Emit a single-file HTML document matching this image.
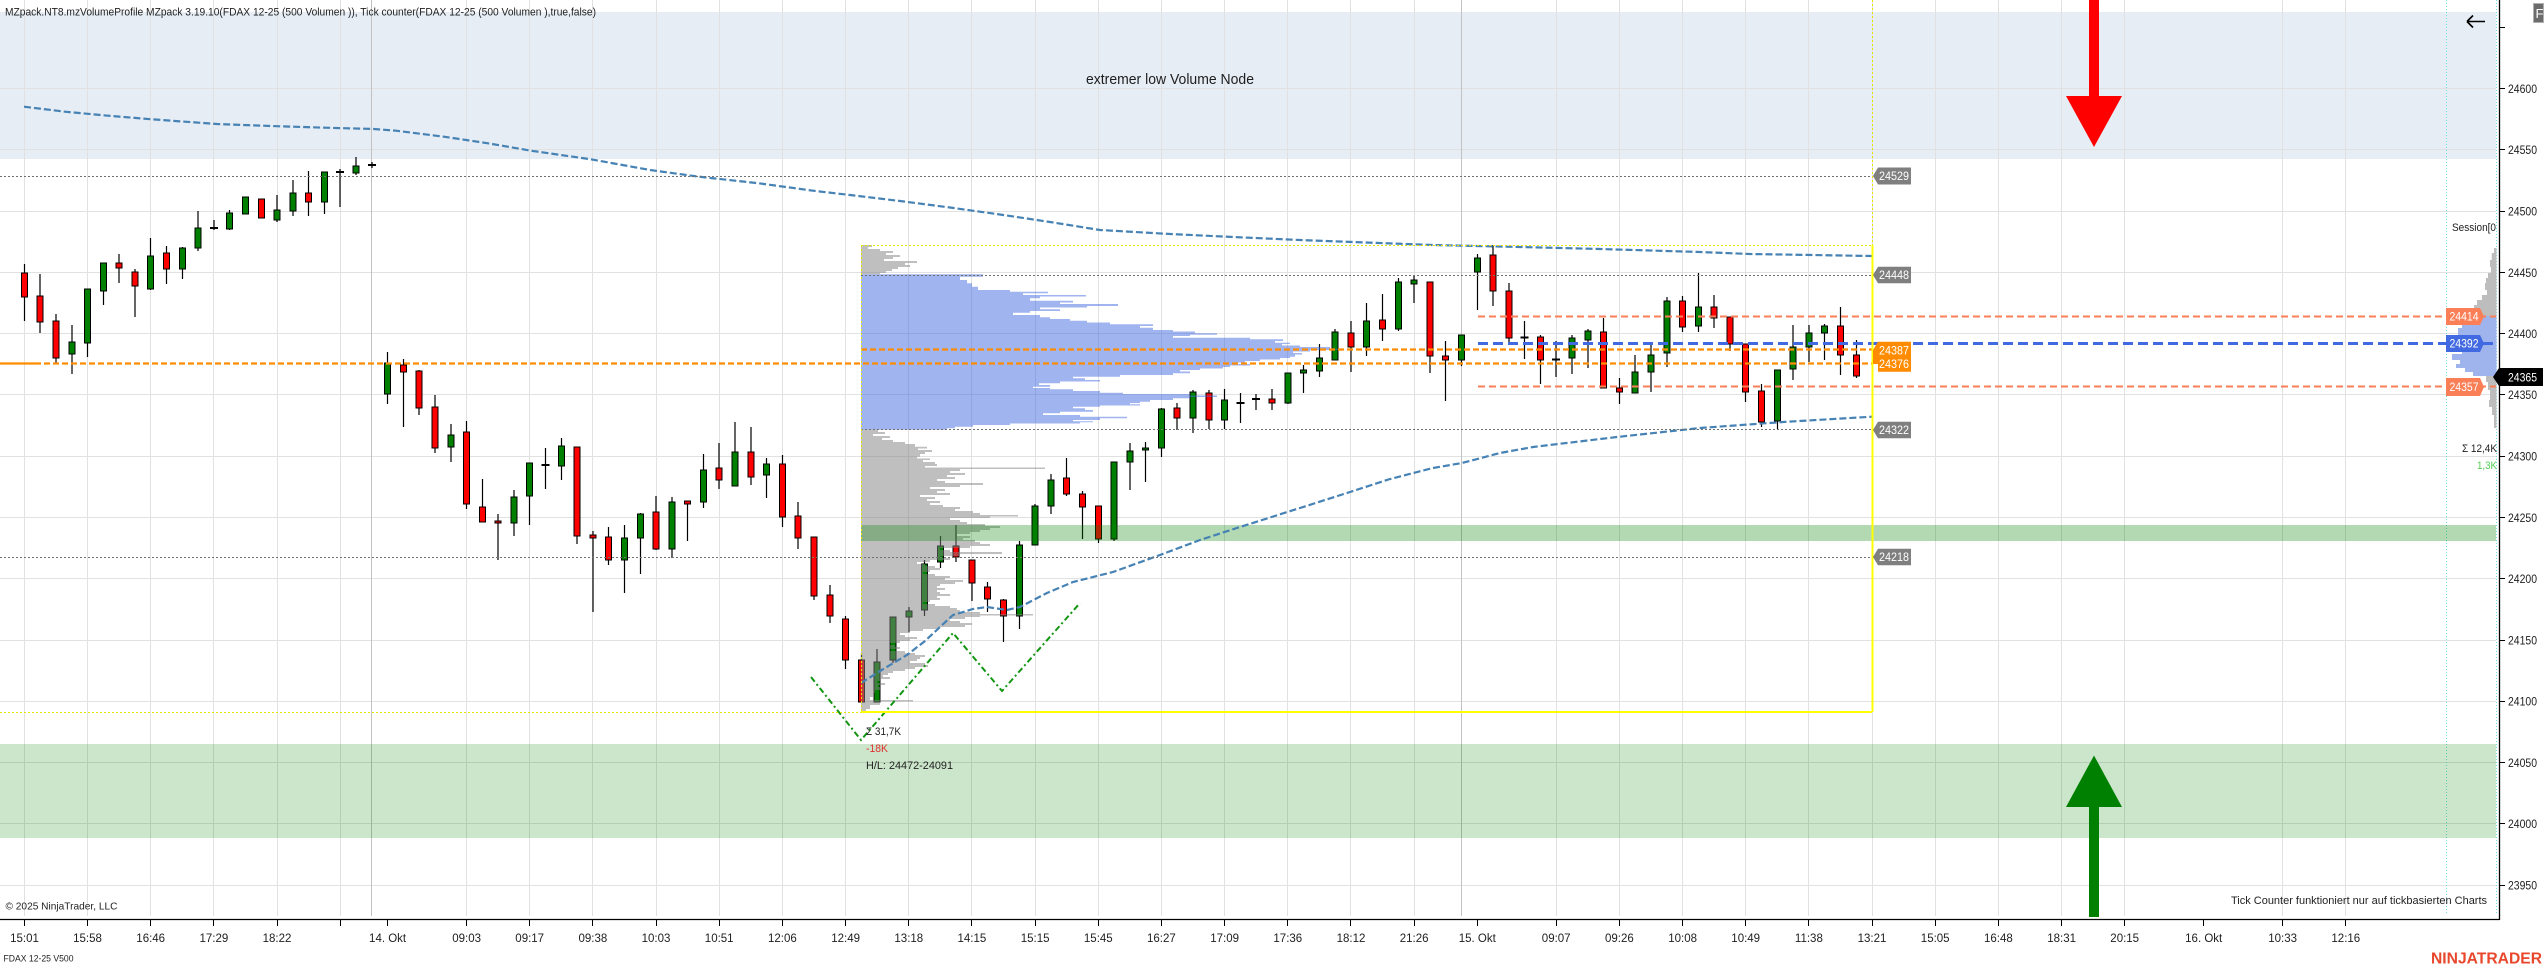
<!DOCTYPE html>
<html><head><meta charset="utf-8"><style>
html,body{margin:0;padding:0;background:#fff;overflow:hidden}
svg{display:block}
text{font-family:"Liberation Sans",sans-serif}
</style></head><body>
<svg width="2544" height="968" viewBox="0 0 2544 968" xmlns="http://www.w3.org/2000/svg">
<rect width="2544" height="968" fill="#fff"/>
<!-- top band -->
<rect x="0" y="12" width="2496" height="147" fill="#e6edf5"/>
<!-- grid -->
<path d="M0 88.5H2496M0 149.5H2496M0 211.5H2496M0 272.5H2496M0 333.5H2496M0 394.5H2496M0 456.5H2496M0 517.5H2496M0 578.5H2496M0 640.5H2496M0 701.5H2496M0 762.5H2496M0 823.5H2496M0 885.5H2496" stroke="#e1e1e1" stroke-width="1" fill="none"/>
<path d="M24.5 0V916M87.5 0V916M150.5 0V916M213.5 0V916M277.5 0V916M340.5 0V916M466.5 0V916M529.5 0V916M592.5 0V916M656.5 0V916M719.5 0V916M782.5 0V916M845.5 0V916M908.5 0V916M971.5 0V916M1035.5 0V916M1098.5 0V916M1161.5 0V916M1224.5 0V916M1287.5 0V916M1350.5 0V916M1414.5 0V916M1556.5 0V916M1619.5 0V916M1682.5 0V916M1745.5 0V916M1808.5 0V916M1872.5 0V916M1935.5 0V916M1998.5 0V916M2061.5 0V916M2124.5 0V916M2282.5 0V916M2345.5 0V916" stroke="#e1e1e1" stroke-width="1" fill="none"/>
<path d="M371.5 0V916M1461.5 0V916" stroke="#c2c2c2" stroke-width="1" fill="none"/>
<!-- cyan dotted -->
<path d="M2446.5 0V915M2496.5 0V915" stroke="#6fe0e0" stroke-width="1" stroke-dasharray="1,2" fill="none"/>

<text x="1086" y="84" font-size="15" fill="#1e1e1e" textLength="168" lengthAdjust="spacingAndGlyphs">extremer low Volume Node</text>

<!-- wicks -->
<path stroke="#000" stroke-width="1.2" fill="none" d="M24.5 264V321M40 274V333M56 314V364M72 325V374M87.5 289V357M103.5 263V305M119 254V283M135 269V317M150.5 238V290M166.5 246V284M182.5 247V279M198 211V251M214 220V230M229.5 210V230M277 195V222M293 180V216M308.5 171V216M324.5 172V214M340 169V207M356 157V175M372 162V168M387.5 352V404M403.5 359V427M419 370V415M435 395V453M451 424V462M466.5 421V509M482.5 479V522M498 514V560M514 490V536M529.5 463V525M545.5 448V489M561.5 438V480M577 447V544M593 531V612M608.5 527V565M624.5 525V593M640.5 513V574M656 496V550M672 497V558M687.5 501V541M703.5 454V508M719 443V489M735 422V486M751 427V485M766.5 458V498M782.5 455V527M798 502V549M814 537V600M830 585V623M845.5 616V669M861.5 653V702M877 649V702M893 617V663M909 607V632M924.5 560V616M940.5 536V568M956 525V562M972 560V601M987.5 582V612M1003.5 599V642M1019.5 541V629M1035 504V545M1051 474V514M1066.5 458V496M1082.5 491V539M1098.5 506V543M1114 462V541M1130 443V490M1145.5 442V482M1161.5 408V457M1177 403V430M1193 390V433M1209 390V429M1224.5 389V429M1240.5 393V423M1256 394V410M1272 389V410M1288 373V404M1303.5 365V393M1319.5 344V377M1335 329V360M1351 321V372M1366.5 303V356M1382.5 294V341M1398.5 278V331M1414 275V303M1430 282V373M1445.5 341V401M1461.5 335V366M1477.5 254V310M1493 245V306M1509 283V342M1524.5 321V359M1540.5 335V384M1556 341V377M1572 335V374M1588 329V368M1603.5 318V388M1619.5 378V404M1635 355V393M1651 343V392M1667 297V367M1682.5 296V332M1698.5 273V332M1714 295V328M1730 317V351M1745.5 344V402M1761.5 384V427M1777.5 370V429M1793 325V380M1809 325V362M1824.5 324V360M1840.5 307V375M1856.5 340V378"/>
<!-- dojis -->
<path stroke="#000" stroke-width="2" fill="none" d="M210 228H218M336 172H344M368 165H376M541.5 465H549.5M1236.5 403H1244.5M1252 399H1260M1520.5 337.5H1528.5M1552 359.5H1560"/>
<!-- red bodies -->
<g fill="#ff0000" stroke="#000" stroke-width="1">
<rect x="21.5" y="273" width="6" height="24"/><rect x="37" y="296" width="6" height="26"/><rect x="53" y="321" width="6" height="37"/><rect x="116" y="263" width="6" height="5"/><rect x="132" y="272" width="6" height="14"/><rect x="163.5" y="253" width="6" height="16"/><rect x="258.5" y="199" width="6" height="19"/><rect x="305.5" y="193" width="6" height="9"/><rect x="400.5" y="365" width="6" height="7"/><rect x="416" y="371" width="6" height="37"/><rect x="432" y="407" width="6" height="41"/><rect x="463.5" y="432" width="6" height="72"/><rect x="479.5" y="507" width="6" height="15"/><rect x="495" y="521" width="6" height="2"/><rect x="574" y="447" width="6" height="89"/><rect x="590" y="535" width="6" height="3"/><rect x="605.5" y="537" width="6" height="23"/><rect x="653" y="512" width="6" height="37"/><rect x="684.5" y="501" width="6" height="3"/><rect x="716" y="468" width="6" height="12"/><rect x="748" y="452" width="6" height="25"/><rect x="779.5" y="464" width="6" height="53"/><rect x="795" y="516" width="6" height="22"/><rect x="811" y="537" width="6" height="59"/><rect x="827" y="595" width="6" height="21"/><rect x="842.5" y="619" width="6" height="41"/><rect x="858.5" y="660" width="6" height="42"/><rect x="953" y="546" width="6" height="11"/><rect x="969" y="560" width="6" height="23"/><rect x="984.5" y="587" width="6" height="12"/><rect x="1000.5" y="600" width="6" height="16"/><rect x="1063.5" y="478" width="6" height="16"/><rect x="1079.5" y="494" width="6" height="13"/><rect x="1095.5" y="506" width="6" height="33"/><rect x="1174" y="408" width="6" height="10"/><rect x="1206" y="393" width="6" height="27"/><rect x="1269" y="399" width="6" height="4"/><rect x="1348" y="333" width="6" height="14"/><rect x="1379.5" y="320" width="6" height="9"/><rect x="1427" y="282" width="6" height="74"/><rect x="1442.5" y="356" width="6" height="4"/><rect x="1490" y="255" width="6" height="36"/><rect x="1506" y="291" width="6" height="47"/><rect x="1537.5" y="337" width="6" height="23"/><rect x="1600.5" y="332" width="6" height="56"/><rect x="1616.5" y="388" width="6" height="4"/><rect x="1679.5" y="301" width="6" height="26"/><rect x="1711" y="307" width="6" height="11"/><rect x="1727" y="317" width="6" height="27"/><rect x="1742.5" y="344" width="6" height="48"/><rect x="1758.5" y="391" width="6" height="31"/><rect x="1837.5" y="326" width="6" height="29"/><rect x="1853.5" y="355" width="6" height="21"/>
</g>
<!-- green bodies -->
<g fill="#008000" stroke="#000" stroke-width="1">
<rect x="69" y="342" width="6" height="12"/><rect x="84.5" y="289" width="6" height="54"/><rect x="100.5" y="263" width="6" height="28"/><rect x="147.5" y="256" width="6" height="33"/><rect x="179.5" y="248" width="6" height="21"/><rect x="195" y="228" width="6" height="20"/><rect x="226.5" y="213" width="6" height="16"/><rect x="242.5" y="197" width="6" height="17"/><rect x="274" y="210" width="6" height="10"/><rect x="290" y="193" width="6" height="18"/><rect x="321.5" y="172" width="6" height="30"/><rect x="353" y="166" width="6" height="7"/><rect x="384.5" y="363" width="6" height="31"/><rect x="448" y="435" width="6" height="12"/><rect x="511" y="497" width="6" height="26"/><rect x="526.5" y="463" width="6" height="33"/><rect x="558.5" y="446" width="6" height="20"/><rect x="621.5" y="538" width="6" height="22"/><rect x="637.5" y="514" width="6" height="24"/><rect x="669" y="502" width="6" height="47"/><rect x="700.5" y="470" width="6" height="32"/><rect x="732" y="452" width="6" height="34"/><rect x="763.5" y="464" width="6" height="11"/><rect x="874" y="662" width="6" height="40"/><rect x="890" y="617" width="6" height="43"/><rect x="906" y="611" width="6" height="6"/><rect x="921.5" y="564" width="6" height="46"/><rect x="937.5" y="546" width="6" height="16"/><rect x="1016.5" y="545" width="6" height="71"/><rect x="1032" y="506" width="6" height="39"/><rect x="1048" y="480" width="6" height="26"/><rect x="1111" y="462" width="6" height="77"/><rect x="1127" y="451" width="6" height="11"/><rect x="1142.5" y="448" width="6" height="2"/><rect x="1158.5" y="409" width="6" height="39"/><rect x="1190" y="392" width="6" height="26"/><rect x="1221.5" y="400" width="6" height="20"/><rect x="1285" y="373" width="6" height="30"/><rect x="1300.5" y="370" width="6" height="3"/><rect x="1316.5" y="358" width="6" height="13"/><rect x="1332" y="332" width="6" height="28"/><rect x="1363.5" y="321" width="6" height="26"/><rect x="1395.5" y="282" width="6" height="47"/><rect x="1411" y="280" width="6" height="4"/><rect x="1458.5" y="335" width="6" height="25"/><rect x="1474.5" y="258" width="6" height="14"/><rect x="1569" y="338" width="6" height="20"/><rect x="1585" y="331" width="6" height="9"/><rect x="1632" y="372" width="6" height="21"/><rect x="1648" y="355" width="6" height="17"/><rect x="1664" y="301" width="6" height="52"/><rect x="1695.5" y="307" width="6" height="19"/><rect x="1774.5" y="370" width="6" height="51"/><rect x="1790" y="347" width="6" height="22"/><rect x="1806" y="333" width="6" height="14"/><rect x="1821.5" y="326" width="6" height="7"/>
</g>

<!-- volume profile -->
<path fill="rgba(128,128,128,0.5)" d="M861 245H872V247H868V249H880V251H893V253H886V255H900V257H893V259H884V261H917V263H905V265H910V267H898V269H892V271H886V273H880V274.3H861Z"/>
<path fill="rgba(65,105,225,0.5)" d="M861 274.3H983V276.7H960V280H967V283.3H972V286.7H978V290H1010V291.7H1048V293.3H1023V295H1086V296.5H1040V298.3H1030V300.7H1073V302.5H1060V304H1118V306H1087V307.5H1040V309.3H1060V311H1030V312.7H1013V315H1040V317.3H1050V319H1070V320.7H1087V322.5H1110V324.3H1153V326H1140V327.7H1153V330H1173V331.5H1195V333.3H1217V334.7H1190V336H1173V337.7H1250V339.3H1283V341H1275V342.7H1290V344H1282V345.5H1300V347H1330V348.5H1340V350H1310V351.5H1293V353H1302V354.5H1295V356.7H1290V358H1280V359.5H1260V361H1245V362.5H1237V364H1250V365.5H1230V367H1223V368.5H1200V370H1180V371.5H1190V373.3H1173V375H1120V376.7H1073V378.3H1085V380H1100V381.5H1060V383.3H1039V385H1050V386.7H1033V388H1050V389.3H1073V391H1100V392.7H1123V394H1190V395.5H1217V397H1190V398.3H1173V400H1150V401.7H1140V403H1130V404.3H1140V405.5H1100V406.7H1073V408.3H1085V410H1093V411.7H1060V413.3H1043V415H1080V416.7H1127V418.3H1100V420H1073V421.2H1093V422.3H1080V423.5H1010V425H973V426.7H955V428.3H947V429.7H861Z"/>
<path fill="rgba(128,128,128,0.5)" d="M861 429.7H878V432H885V434H873V436H890V438H882V440H893V442H905V444H915V446.7H927V448.5H918V450H932V452H925V454H920V456.7H917V458.5H930V460H923V462H935V464H937V466H925V467.5H1045V469H960V471H950V473H965V475H947V477H955V479H937V481H945V483H983V485H960V487H930V489H945V491H937V493H950V495H920V497H935V499H927V501H940V503H930V505H943V507H960V509H955V511H973V513H980V515H1018V516.5H990V518H950V520H960V522H967V524H985V526H1000V528H990V530H980V532H970V534H957V536H970V538H963V540H975V542H980V544H990V546H970V548H940V550H950V552H1002V554H960V556H940V558H950V560H930V562H917V564H925V566H935V568H940V570H930V572H923V574H935V576H950V578H945V580H963V582H955V584H940V586H937V588H945V590H937V592H940V594H950V596H937V598H940V600H930V602H923V604H935V606H950V608H957V610H960V612H980V614H1033V615.5H980V617H965V619H950V621H960V623H972V625H965V627H940V629H923V631H910V633H900V635H905V637H917V639H910V641H900V643H890V645H895V647H900V649H890V651H905V653H915V655H925V657H920V659H917V661H910V663H925V665H928V667H915V669H905V671H893V673H888V675H883V677H890V679H880V681H877V683H885V685H878V687H880V690H875V693H873V697H870V700H913V701.5H880V705H870V709H866V712H861Z"/>

<!-- session profile right -->
<path fill="#bdbdbd" d="M2496.5 248H2494V253H2491.7V260H2490V267H2491V273H2488V278H2486V283H2485V290H2487V295H2482V300H2477V305H2474V310H2471V316H2496.5Z"/>
<path fill="#9fb3ec" d="M2496.5 316H2466V322H2462V328H2458V335H2456V343H2460V350H2462V354H2452V360H2460V364H2456V368H2465V372H2473V376H2496.5Z"/>
<path fill="#bdbdbd" d="M2496.5 376H2486V382H2488V390H2490V400H2489V407H2492V415H2494V428H2496.5Z"/>

<!-- green bands -->
<rect x="861" y="525" width="1635" height="16" fill="rgba(0,128,0,0.3)"/>
<rect x="0" y="744" width="2496" height="94" fill="rgba(0,128,0,0.2)"/>

<!-- moving averages -->
<polyline fill="none" stroke="#4682b4" stroke-width="2.2" stroke-dasharray="7,3" points="24,106.7 65,111.7 108,115.7 152,119.3 217,124 271,126 325,127.7 374,129 396,130.7 444,136.7 488,143.3 531,150.7 591,159.3 650,170 699,176.7 759,183.3 813,190.7 850,195 900,201 950,207.5 1000,214.5 1050,222 1100,230 1170,234 1233,237 1300,240 1433,245 1520,247 1600,249 1700,252 1750,254 1872,256"/>
<polyline fill="none" stroke="#4682b4" stroke-width="2.2" stroke-dasharray="7,3" points="861,683 885,668 907,655 925,641 940,627 953,615 973,609 987,607 1007,610 1020,607 1047,593 1073,582 1113,572 1160,555 1200,540 1240,527 1300,508 1350,492 1390,479 1433,468 1462,463 1500,453 1533,447 1617,437 1700,428 1783,422 1872,416.7"/>

<!-- horizontal levels -->
<path d="M0 176.5H1872M0 557.5H1872M861 275.5H1872M861 429.5H1872" stroke="#707070" stroke-width="1" stroke-dasharray="2,2" fill="none"/>
<path d="M0 363.5H35" stroke="#ff8c00" stroke-width="2.2" fill="none"/>
<path d="M35 363.5H1872M861 349.5H1872" stroke="#ff8c00" stroke-width="2.2" stroke-dasharray="6,3" fill="none"/>
<path d="M1478 316.5H2496M1478 386.5H2496" stroke="#fa7f57" stroke-width="2" stroke-dasharray="7,4" fill="none"/>
<path d="M1478 343.5H2493" stroke="#4169e1" stroke-width="3" stroke-dasharray="10,5" fill="none"/>

<!-- zigzag -->
<polyline fill="none" stroke="#129612" stroke-width="2" stroke-dasharray="6,3,2,3" points="811,677 861,740 953,633 1002,691 1080,603"/>

<!-- yellow lines -->
<path d="M861 712H1872M1872.5 245V712" stroke="#ffff00" stroke-width="2" fill="none"/>
<path d="M0 712.5H861M861 245.5H1872M861.5 245V712M1872.5 0V245" stroke="#e6e600" stroke-width="1" stroke-dasharray="2,2" fill="none"/>

<!-- arrows -->
<rect x="2089" y="0" width="10" height="97" fill="#ff0000"/>
<polygon points="2066,96 2122,96 2094,147" fill="#ff0000"/>
<rect x="2089" y="806" width="10" height="111" fill="#008000"/>
<polygon points="2066,807 2122,807 2094,755.5" fill="#008000"/>

<!-- labels at 1873 -->
<g fill="#7f7f7f">
<path d="M1873 176L1878 167.5H1911V184.5H1878Z"/>
<path d="M1873 275L1878 266.7H1911V283.3H1878Z"/>
<path d="M1873 430L1878 421.7H1911V438.3H1878Z"/>
<path d="M1873 557L1878 548.7H1911V565.3H1878Z"/>
</g>
<path d="M1873 350L1878 341.7H1911V371.7H1878V364H1873Z" fill="#ff8c00"/>
<g fill="#fff" font-size="11.5" text-anchor="middle">
<text x="1894" y="180" textLength="30" lengthAdjust="spacingAndGlyphs">24529</text>
<text x="1894" y="279" textLength="30" lengthAdjust="spacingAndGlyphs">24448</text>
<text x="1894" y="434" textLength="30" lengthAdjust="spacingAndGlyphs">24322</text>
<text x="1894" y="561" textLength="30" lengthAdjust="spacingAndGlyphs">24218</text>
<text x="1894" y="354.5" textLength="30" lengthAdjust="spacingAndGlyphs">24387</text>
<text x="1894" y="368" textLength="30" lengthAdjust="spacingAndGlyphs">24376</text>
</g>

<!-- right labels -->
<path d="M2446 308H2480L2484 316.5L2480 325H2446Z" fill="#fa7f57"/>
<path d="M2446 335H2480L2484 343.5L2480 352H2446Z" fill="#4169e1"/>
<path d="M2446 378H2480L2484 387L2480 396H2446Z" fill="#fa7f57"/>
<g fill="#fff" font-size="11.5" text-anchor="middle">
<text x="2464" y="320.5" textLength="29" lengthAdjust="spacingAndGlyphs">24414</text>
<text x="2464" y="347.5" textLength="29" lengthAdjust="spacingAndGlyphs">24392</text>
<text x="2464" y="391" textLength="29" lengthAdjust="spacingAndGlyphs">24357</text>
</g>

<text x="2452" y="231" font-size="11" fill="#1e1e1e" textLength="44" lengthAdjust="spacingAndGlyphs">Session[0</text>
<text x="2462" y="452" font-size="11" fill="#1e1e1e" textLength="35" lengthAdjust="spacingAndGlyphs">Σ 12,4K</text>
<text x="2477" y="469" font-size="11" fill="#55cc55" textLength="20" lengthAdjust="spacingAndGlyphs">1,3K</text>

<!-- axes -->
<rect x="2497" y="0" width="47" height="968" fill="#fff"/>
<path d="M0 919.5H2499.5M2499.5 0V920" stroke="#000" stroke-width="1.3" fill="none"/>
<path d="M2499 27.5H2505M2499 88.5H2505M2499 149.5H2505M2499 211.5H2505M2499 272.5H2505M2499 333.5H2505M2499 394.5H2505M2499 456.5H2505M2499 517.5H2505M2499 578.5H2505M2499 640.5H2505M2499 701.5H2505M2499 762.5H2505M2499 823.5H2505M2499 885.5H2505" stroke="#000" stroke-width="1" fill="none"/>
<path d="M2493 377L2499 368H2543V386H2499Z" fill="#000"/>
<text x="2508" y="381.5" font-size="11.5" fill="#fff" textLength="29" lengthAdjust="spacingAndGlyphs">24365</text>
<g font-size="11.5" fill="#1e1e1e">
<text x="2508" y="93" textLength="29" lengthAdjust="spacingAndGlyphs">24600</text>
<text x="2508" y="154" textLength="29" lengthAdjust="spacingAndGlyphs">24550</text>
<text x="2508" y="215.5" textLength="29" lengthAdjust="spacingAndGlyphs">24500</text>
<text x="2508" y="277" textLength="29" lengthAdjust="spacingAndGlyphs">24450</text>
<text x="2508" y="338" textLength="29" lengthAdjust="spacingAndGlyphs">24400</text>
<text x="2508" y="399" textLength="29" lengthAdjust="spacingAndGlyphs">24350</text>
<text x="2508" y="460.5" textLength="29" lengthAdjust="spacingAndGlyphs">24300</text>
<text x="2508" y="522" textLength="29" lengthAdjust="spacingAndGlyphs">24250</text>
<text x="2508" y="583" textLength="29" lengthAdjust="spacingAndGlyphs">24200</text>
<text x="2508" y="644.5" textLength="29" lengthAdjust="spacingAndGlyphs">24150</text>
<text x="2508" y="705.5" textLength="29" lengthAdjust="spacingAndGlyphs">24100</text>
<text x="2508" y="767" textLength="29" lengthAdjust="spacingAndGlyphs">24050</text>
<text x="2508" y="828" textLength="29" lengthAdjust="spacingAndGlyphs">24000</text>
<text x="2508" y="889.5" textLength="29" lengthAdjust="spacingAndGlyphs">23950</text>
</g>
<rect x="2533.5" y="3.5" width="10" height="19" fill="#6b6b6b" stroke="#b0b0b0" stroke-width="1"/>
<text x="2535.5" y="18" font-size="13" fill="#fff">F</text>
<path d="M2467 21.5H2485M2467 21.5L2473 15.5M2467 21.5L2473 27.5" stroke="#000" stroke-width="1.6" fill="none"/>

<!-- x ticks -->
<path d="M24.5 919V926M87.5 919V926M150.5 919V926M213.5 919V926M277.5 919V926M340.5 919V926M387.5 919V926M466.5 919V926M529.5 919V926M592.5 919V926M656.5 919V926M719.5 919V926M782.5 919V926M845.5 919V926M908.5 919V926M971.5 919V926M1035.5 919V926M1098.5 919V926M1161.5 919V926M1224.5 919V926M1287.5 919V926M1350.5 919V926M1414.5 919V926M1477.5 919V926M1556.5 919V926M1619.5 919V926M1682.5 919V926M1745.5 919V926M1808.5 919V926M1872.5 919V926M1935.5 919V926M1998.5 919V926M2061.5 919V926M2124.5 919V926M2203.5 919V926M2282.5 919V926M2345.5 919V926" stroke="#000" stroke-width="1" fill="none"/>
<g font-size="11.5" fill="#1e1e1e" text-anchor="middle">
<text x="24.5" y="942">15:01</text><text x="87.5" y="942">15:58</text><text x="150.7" y="942">16:46</text><text x="213.9" y="942">17:29</text><text x="277" y="942">18:22</text><text x="387.6" y="942">14. Okt</text><text x="466.6" y="942">09:03</text><text x="529.7" y="942">09:17</text><text x="592.9" y="942">09:38</text><text x="656" y="942">10:03</text><text x="719.2" y="942">10:51</text><text x="782.4" y="942">12:06</text><text x="845.6" y="942">12:49</text><text x="908.8" y="942">13:18</text><text x="971.9" y="942">14:15</text><text x="1035.1" y="942">15:15</text><text x="1098.3" y="942">15:45</text><text x="1161.4" y="942">16:27</text><text x="1224.6" y="942">17:09</text><text x="1287.8" y="942">17:36</text><text x="1351" y="942">18:12</text><text x="1414.1" y="942">21:26</text><text x="1477.3" y="942">15. Okt</text><text x="1556.2" y="942">09:07</text><text x="1619.4" y="942">09:26</text><text x="1682.6" y="942">10:08</text><text x="1745.7" y="942">10:49</text><text x="1808.9" y="942">11:38</text><text x="1872" y="942">13:21</text><text x="1935.2" y="942">15:05</text><text x="1998.4" y="942">16:48</text><text x="2061.6" y="942">18:31</text><text x="2124.7" y="942">20:15</text><text x="2203.7" y="942">16. Okt</text><text x="2282.6" y="942">10:33</text><text x="2345.8" y="942">12:16</text>
</g>

<!-- texts -->
<text x="5" y="15.5" font-size="11" fill="#1e1e1e" textLength="591" lengthAdjust="spacingAndGlyphs">MZpack.NT8.mzVolumeProfile MZpack 3.19.10(FDAX 12-25 (500 Volumen )), Tick counter(FDAX 12-25 (500 Volumen ),true,false)</text>
<text x="866" y="735" font-size="11" fill="#1e1e1e" textLength="35" lengthAdjust="spacingAndGlyphs">Σ 31,7K</text>
<text x="866" y="752" font-size="11" fill="#e03030" textLength="22" lengthAdjust="spacingAndGlyphs">-18K</text>
<text x="866" y="769" font-size="11" fill="#1e1e1e" textLength="87" lengthAdjust="spacingAndGlyphs">H/L: 24472-24091</text>
<text x="5.5" y="909.5" font-size="10.5" fill="#1e1e1e" textLength="112" lengthAdjust="spacingAndGlyphs">© 2025 NinjaTrader, LLC</text>
<text x="3.5" y="961.5" font-size="9" fill="#1e1e1e" textLength="70" lengthAdjust="spacingAndGlyphs">FDAX 12-25 V500</text>
<text x="2231" y="904" font-size="11" fill="#1e1e1e" textLength="256" lengthAdjust="spacingAndGlyphs">Tick Counter funktioniert nur auf tickbasierten Charts</text>
<text x="2431" y="963.5" font-size="16" font-weight="bold" fill="#e8472c" textLength="111" lengthAdjust="spacingAndGlyphs">NINJATRADER</text>
</svg>
</body></html>
